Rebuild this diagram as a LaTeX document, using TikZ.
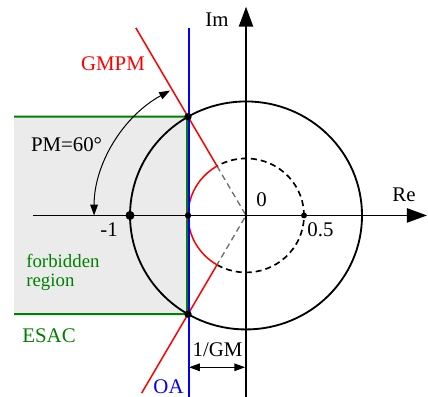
\documentclass[tikz,border=0pt]{standalone}
\usepackage{fontspec}
\setmainfont{Liberation Serif}
\usetikzlibrary{arrows.meta}
\definecolor{esacgreen}{RGB}{0,128,0}
\definecolor{regiongray}{RGB}{235,235,235}
\definecolor{raygray}{RGB}{110,110,110}

\begin{document}
\begin{tikzpicture}[x=69.6pt,y=68.4pt,
  axis/.style={line width=1.1pt,-{Triangle[length=12pt,width=8.5pt]}},
  dimline/.style={line width=0.6pt,{Triangle[length=6.5pt,width=4.6pt]}-{Triangle[length=6.5pt,width=4.6pt]}},
  gmpm/.style={red,line width=0.9pt},
  esac/.style={esacgreen,line width=1.2pt},
  oa/.style={blue,line width=0.9pt},
  lbl/.style={font=\fontsize{12.5}{14}\selectfont,inner sep=0pt},
  ]
  \useasboundingbox (-2.121,-1.592) rectangle (1.569,1.890);

  % Key points
  \coordinate (O) at (0,0);
  \coordinate (M) at (-1,0);
  \coordinate (C) at (-0.5,0);
  \coordinate (H) at (0.5,0);
  \coordinate (P1) at (120:1);
  \coordinate (P2) at (240:1);
  \coordinate (R1) at (120:0.5);
  \coordinate (R2) at (240:0.5);
  \coordinate (G1) at (120:1.9);
  \coordinate (G2) at (240:1.8);
  \coordinate (ESt) at (-2,0.866);
  \coordinate (ESb) at (-2,-0.866);
  \coordinate (OAt) at (-0.5,1.645);
  \coordinate (OAb) at (-0.5,-1.592);

  % Forbidden region (ESAC)
  \fill[regiongray] (ESb) rectangle ([xshift=-0.5pt]P1);
  \draw[esac] (ESt) -- ([xshift=-0.5pt]P1) -- ([xshift=-0.5pt]P2) -- (ESb);

  % Unit circle and 0.5 circle
  \draw[line width=1.1pt] (O) circle[radius=1];
  \draw[line width=1pt,dash pattern=on 3.6pt off 2.4pt] (R2) arc[start angle=-120,end angle=120,radius=0.5];
  \draw[raygray,line width=0.8pt,dash pattern=on 3.6pt off 2.4pt] (R1) -- (O) -- (R2);

  % GMPM boundary
  \draw[gmpm] (G1) -- (R1) arc[start angle=120,end angle=240,radius=0.5] -- (G2);

  % OA line
  \draw[oa] ([xshift=0.6pt]OAt) -- ([xshift=0.6pt]OAb);

  % Axes
  \coordinate (ReS) at (-1.836,0);
  \coordinate (ReE) at (1.560,0);
  \coordinate (ImS) at (0,-1.592);
  \coordinate (ImE) at (0,1.831);
  \draw[axis] (ReS) -- (ReE);
  \draw[axis] (ImS) -- (ImE);

  % Points
  \fill (M) circle (2.7pt);
  \fill (C) circle (1.9pt);
  \fill (H) circle (1.8pt);
  \fill (P1) circle (2.2pt);
  \fill (P2) circle (2.2pt);

  % Phase margin arc
  \coordinate (PMs) at (-1.31,0);
  \draw[dimline] (PMs) arc[start angle=180,end angle=120,x radius=1.31,y radius=1.265];

  % 1/GM distance
  \coordinate (D1) at ([xshift=0.6pt]-0.5,-1.332);
  \coordinate (D2) at ([xshift=-0.55pt]0,-1.332);
  \draw[dimline] (D1) -- (D2);

  % Labels
  \node[lbl] (lIm) at (-0.25,1.715) {Im};
  \node[lbl] (lRe) at (1.362,0.18) {Re};
  \node[lbl] (lZero) at (0.134,0.136) {0};
  \node[lbl] (lHalf) at (0.642,-0.123) {0.5};
  \node[lbl] (lMone) at (-1.181,-0.127) {-1};
  \node[lbl,red] (lGMPM) at (-1.147,1.333) {GMPM};
  \node[lbl] (lPM) at (-1.547,0.618) {PM=60°};
  \node[lbl,esacgreen,anchor=west,align=left,font=\fontsize{11.3}{11.6}\selectfont] (lForb) at (-1.897,-0.5) {forbidden\\region};
  \node[lbl,esacgreen] (lESAC) at (-1.698,-1.053) {ESAC};
  \node[lbl,blue] (lOA) at (-0.668,-1.5) {OA};
  \node[lbl] (lGM) at (-0.246,-1.18) {1/GM};
\end{tikzpicture}
\end{document}
